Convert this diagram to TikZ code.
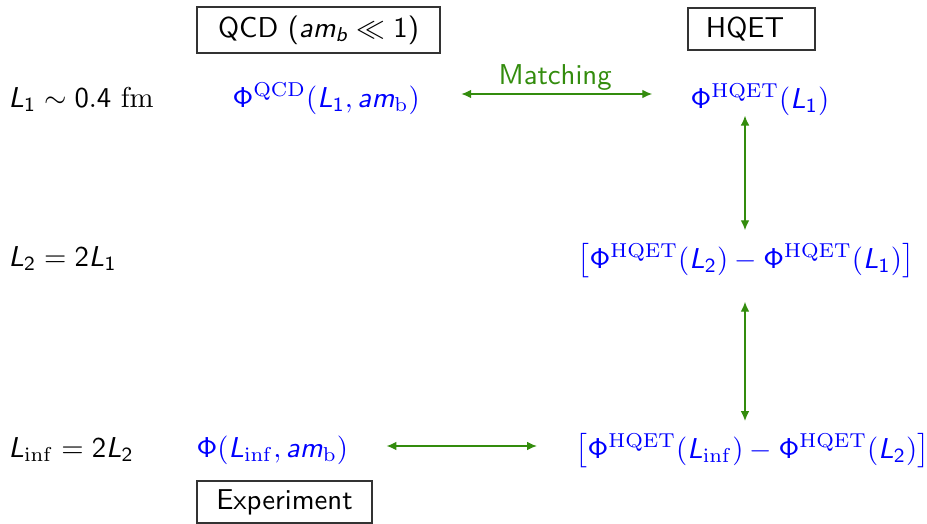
\documentclass[tikz,border=0pt]{standalone}
\usepackage{amsmath,amssymb}
\usepackage{xcolor}
\usetikzlibrary{arrows.meta}
\renewcommand{\familydefault}{\sfdefault}
% sans serif letters and digits in math, as on slides
\DeclareSymbolFont{sfletters}{OT1}{cmss}{m}{sl}
\DeclareSymbolFont{sfupright}{OT1}{cmss}{m}{n}
\DeclareMathSymbol{L}{\mathalpha}{sfletters}{`L}
\DeclareMathSymbol{a}{\mathalpha}{sfletters}{`a}
\DeclareMathSymbol{m}{\mathalpha}{sfletters}{`m}
\DeclareMathSymbol{b}{\mathalpha}{sfletters}{`b}
\DeclareMathSymbol{0}{\mathord}{sfupright}{`0}
\DeclareMathSymbol{1}{\mathord}{sfupright}{`1}
\DeclareMathSymbol{2}{\mathord}{sfupright}{`2}
\DeclareMathSymbol{4}{\mathord}{sfupright}{`4}
\DeclareMathSymbol{\Phi}{\mathalpha}{sfupright}{"08}
\definecolor{matchgreen}{rgb}{0.2,0.55,0.05}

\begin{document}
\begin{tikzpicture}[x=0.348pt,y=-0.348pt,
    volume/.style={anchor=base west,inner sep=0pt},
    quant/.style={anchor=base west,inner sep=0pt,text=blue},
    tag/.style={draw=black!80,inner sep=0pt,minimum height=14.6pt},
    link/.style={draw=matchgreen,{Latex[length=3.4pt,width=3pt]}-{Latex[length=3.4pt,width=3pt]}}]
    \useasboundingbox (0,0) rectangle (927,523);

    % Boxes
    \node[tag,minimum width=84.6pt,minimum height=16pt] (qcdbox) at (318.5,30) {QCD ($am_b \ll 1$)};
    \node[tag,minimum width=44.2pt] (hqetbox) at (751.5,29) {HQET\kern4.5pt};
    \node[tag,minimum width=60.9pt] (expbox) at (284.5,502) {Experiment};

    % Volumes
    \node[volume] (vol1) at (8,107) {$L_1 \sim 0.4\ \mathrm{fm}$};
    \node[volume] (vol2) at (8,266) {$L_2 = 2L_1$};
    \node[volume] (vol3) at (8,457) {$L_{\mathrm{inf}} = 2L_2$};

    % Quantities
    \node[quant] (phiqcd) at (232,107) {$\Phi^{\mathrm{QCD}}(L_1, am_{\mathrm{b}})$};
    \node[quant] (phihqet) at (690,108) {$\Phi^{\mathrm{HQET}}(L_1)$};
    \node[quant] (step21) at (577,268) {$\bigl[\Phi^{\mathrm{HQET}}(L_2) - \Phi^{\mathrm{HQET}}(L_1)\bigr]$};
    \node[quant] (phiexp) at (196,457) {$\Phi(L_{\mathrm{inf}}, am_{\mathrm{b}})$};
    \node[quant] (step32) at (575,458) {$\bigl[\Phi^{\mathrm{HQET}}(L_{\mathrm{inf}}) - \Phi^{\mathrm{HQET}}(L_2)\bigr]$};

    % Arrows
    \coordinate (col) at (745,0);
    \coordinate (row1) at (0,94);
    \coordinate (row3) at (0,446);
    \draw[link,shorten <=14.3pt,shorten >=13.2pt] (phiqcd.east |- row1) -- node[above,inner sep=1pt,text=matchgreen] (matchlbl) {Matching} (phihqet.west |- row1);
    \draw[link] (phihqet.south -| col) -- ([yshift=4.5pt]step21.north -| col);
    \draw[link,shorten <=8.1pt,shorten >=4.2pt] (step21.south -| col) -- (step32.north -| col);
    \draw[link,shorten <=13.2pt,shorten >=13.3pt] (phiexp.east |- row3) -- (step32.west |- row3);
\end{tikzpicture}
\end{document}
